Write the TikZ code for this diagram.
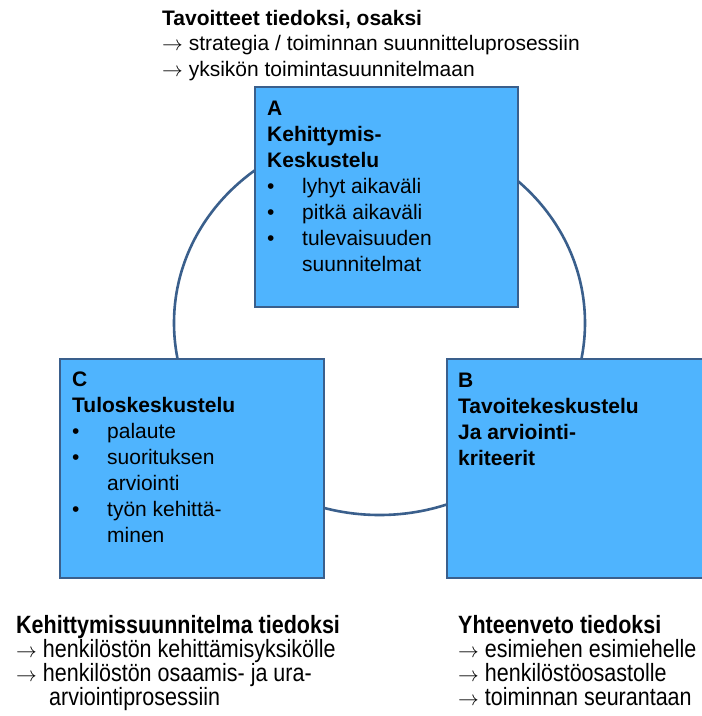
\documentclass[tikz,border=0pt]{standalone}
\usepackage{fontspec}
\setmainfont{Liberation Sans}
\newfontfamily\narrowfont[FakeStretch=0.86]{Liberation Sans}
\definecolor{boxfill}{RGB}{79,180,254}
\definecolor{boxline}{RGB}{58,95,140}
\newcommand\vlines[2]{\vtop{\baselineskip=#1\lineskiplimit=-20pt\relax #2}}
\newcommand\bul[1]{\hbox{\makebox[35pt][l]{•}#1}}
\newcommand\cont[1]{\hbox{\hspace*{35pt}#1}}
\newcommand\arr{{\fontsize{21}{21}\selectfont$\rightarrow$}}
\tikzset{
  box/.style={draw=boxline, fill=boxfill, line width=2.6pt, rectangle, inner sep=0pt},
  txt/.style={anchor=base west, inner sep=0pt, font=\fontsize{21}{26}\selectfont},
  ntxt/.style={anchor=base west, inner sep=0pt, font=\narrowfont\fontsize{25}{24}\selectfont},
  cyc/.style={draw=boxline, line width=2.6pt}
}
\begin{document}
\begin{tikzpicture}[x=1pt,y=-1pt]
\useasboundingbox (0,0) rectangle (702,716);
\clip (0,0) rectangle (702,716);
\fill[white] (0,0) rectangle (702,716);
% cycle
\draw[cyc] (379.5,323) ellipse [x radius=205.5pt, y radius=192pt];
% boxes
\node[box, minimum width=263pt, minimum height=220pt] (boxA) at (386.5,197) {};
\node[box, minimum width=264pt, minimum height=219pt] (boxC) at (192,468.5) {};
\node[box, minimum width=273pt, minimum height=219pt] (boxB) at (583.5,468.5) {};
% box texts
\node[txt] (textA) at (267,115) {\vlines{26pt}{%
  \hbox{\bfseries A}\hbox{\bfseries Kehittymis-}\hbox{\bfseries Keskustelu}%
  \bul{lyhyt aikaväli}\bul{pitkä aikaväli}\bul{tulevaisuuden}\cont{suunnitelmat}}};
\node[txt] (textC) at (72,386) {\vlines{26pt}{%
  \hbox{\bfseries C}\hbox{\bfseries Tuloskeskustelu}%
  \bul{palaute}\bul{suorituksen}\cont{arviointi}\bul{työn kehittä-}\cont{minen}}};
\node[txt] (textB) at (458,387) {\vlines{26pt}{%
  \hbox{\bfseries B}\hbox{\bfseries Tavoitekeskustelu}\hbox{\bfseries Ja arviointi-}\hbox{\bfseries kriteerit}}};
% outer texts
\node[txt] (top) at (162,25) {\vlines{25.5pt}{%
  \hbox{\bfseries Tavoitteet tiedoksi, osaksi}%
  \hbox{\arr{} strategia / toiminnan suunnitteluprosessiin}%
  \hbox{\arr{} yksikön toimintasuunnitelmaan}}};
\node[ntxt] (botL) at (16,633) {\vlines{24pt}{%
  \hbox{\bfseries Kehittymissuunnitelma tiedoksi}%
  \hbox{\arr{} henkilöstön kehittämisyksikölle}%
  \hbox{\arr{} henkilöstön osaamis- ja ura-}%
  \hbox{\hspace*{33pt}arviointiprosessiin}}};
\node[ntxt] (botR) at (458,633) {\vlines{24pt}{%
  \hbox{\bfseries Yhteenveto tiedoksi}%
  \hbox{\arr{} esimiehen esimiehelle}%
  \hbox{\arr{} henkilöstöosastolle}%
  \hbox{\arr{} toiminnan seurantaan}}};
\end{tikzpicture}
\end{document}
